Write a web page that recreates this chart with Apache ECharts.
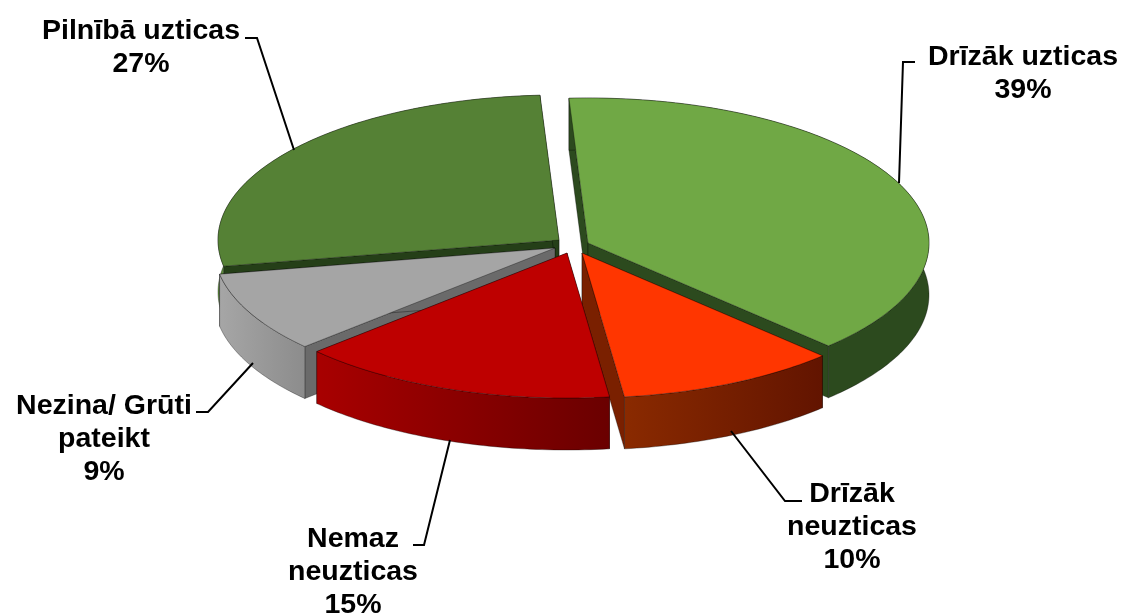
<!DOCTYPE html>
<html><head><meta charset="utf-8">
<style>html,body{margin:0;padding:0;background:#fff}#c{width:1123px;height:614px}</style>
<script src="https://cdn.jsdelivr.net/npm/echarts@6/dist/echarts.min.js"></script>
</head><body><div id="c"></div>
<script>
// Data
const categories = ['Drīzāk uzticas', 'Drīzāk\nneuzticas', 'Nemaz\nneuzticas', 'Nezina/ Grūti\npateikt', 'Pilnībā uzticas'];
const values = [39, 10, 15, 9, 27];

// Styles
const topColors = ['#70A845', '#FF3600', '#BE0000', '#A5A5A5', '#558135'];
const wallColors = ['#2C4A1E', '#7A2000', '#8E0000', '#6A6A6A', '#253F18'];
const sideFrom = ['#2C4A1E', '#8A2A00', '#A80000', '#A6A6A6', '#5E8C3C'];
const sideTo = ['#2C4A1E', '#621400', '#6A0000', '#8C8C8C', '#4A7030'];

// Layout of the tilted pie, in pixels
const RX = 341, RY = 145, DEPTH = 52, START = -3.2, PERSPECTIVE_DEG = 3;
const apexes = [[588, 243], [582, 253], [567, 253], [555, 248], [559, 240]];
const leaderLines = [
  [[915, 62], [903, 62], [899, 183]],
  [[802, 501], [785, 501], [731, 431]],
  [[413, 545], [424, 545], [450, 440]],
  [[196, 412], [208, 412], [253, 363]],
  [[245, 38], [257, 38], [294, 150]]
];
const labelCentres = [[1023, 74], [852, 527], [353, 572], [104, 439], [141, 48]];
const FONT_SIZE = 28.5, LINE_HEIGHT = 33;

const total = values.reduce((a, b) => a + b, 0);
const spans = [];
let acc = START;
values.forEach(v => { const s = acc; acc += v / total * 360; spans.push([s, acc]); });
const mid = i => (spans[i][0] + spans[i][1]) / 2;
// Paint from the back of the pie to the front
const drawOrder = values.map((_, i) => i).sort((a, b) => Math.abs(mid(b) - 180) - Math.abs(mid(a) - 180));

function rim(i, deg, drop) {
  const r = deg * Math.PI / 180;
  const a = (deg - PERSPECTIVE_DEG * Math.max(0, Math.sin(r))) * Math.PI / 180, p = apexes[i];
  return [p[0] + RX * Math.sin(a), p[1] - RY * Math.cos(a) + drop];
}
function arc(i, drop) {
  const pts = [], [s, e] = spans[i], n = Math.ceil(e - s);
  for (let k = 0; k <= n; k++) pts.push(rim(i, s + (e - s) * k / n, drop));
  return pts;
}
function wall(i, deg) {
  const p = apexes[i];
  return [p, rim(i, deg, 0), rim(i, deg, DEPTH), [p[0], p[1] + DEPTH]];
}
const edge = { stroke: 'rgba(0,0,0,0.55)', lineWidth: 0.6 };

function renderSlice(params, api) {
  const i = api.value(0);
  const p = apexes[i];
  const top = arc(i, 0), bottom = arc(i, DEPTH).reverse();
  const children = [
    { type: 'polygon', shape: { points: wall(i, spans[i][0]) }, style: { fill: wallColors[i], ...edge } },
    { type: 'polygon', shape: { points: wall(i, spans[i][1]) }, style: { fill: wallColors[i], ...edge } },
    { type: 'polygon', shape: { points: top.concat(bottom) },
      style: { fill: new echarts.graphic.LinearGradient(0, 0, 1, 0, [
        { offset: 0, color: sideFrom[i] }, { offset: 1, color: sideTo[i] }]), ...edge } },
    { type: 'polygon', shape: { points: [p].concat(top) }, style: { fill: topColors[i], ...edge } }
  ];
  return { type: 'group', children };
}
function renderLabel(params, api) {
  const i = api.value(0);
  return { type: 'group', children: [
    { type: 'polyline', shape: { points: leaderLines[i] },
      style: { fill: 'none', stroke: '#000', lineWidth: 2 } },
    { type: 'text', x: labelCentres[i][0], y: labelCentres[i][1],
      style: { text: categories[i] + '\n' + values[i] + '%', fill: '#000', align: 'center', verticalAlign: 'middle',
        font: 'bold ' + FONT_SIZE + 'px "Liberation Sans", Arial, sans-serif', lineHeight: LINE_HEIGHT } }
  ] };
}
const chart = echarts.init(document.getElementById('c'), null, { renderer: 'canvas' });
chart.setOption({
  backgroundColor: '#fff',
  animation: false,
  series: [
    { type: 'custom', coordinateSystem: 'none', silent: true, renderItem: renderSlice,
      data: drawOrder.map(i => [i]), z: 2 },
    { type: 'custom', coordinateSystem: 'none', silent: true, renderItem: renderLabel,
      data: values.map((_, i) => [i]), z: 3 }
  ]
});
</script></body></html>
